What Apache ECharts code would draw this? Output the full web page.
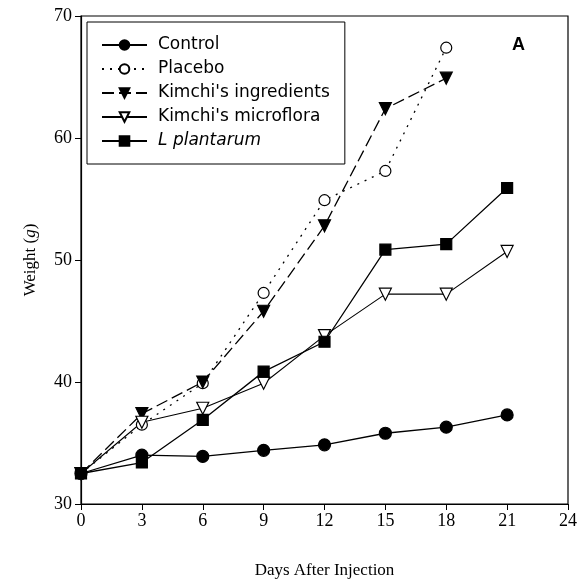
<!DOCTYPE html>
<html><head><meta charset="utf-8">
<script src="https://cdn.jsdelivr.net/npm/echarts@6/dist/echarts.min.js"></script>
<style>html,body{margin:0;padding:0;background:#fff}#c{width:580px;height:585px}</style>
</head><body><div id="c"></div>
<script>
const days = [0, 3, 6, 9, 12, 15, 18, 21];
const xTicks = [0, 3, 6, 9, 12, 15, 18, 21, 24];
const yTicks = [30, 40, 50, 60, 70];
const control = [32.5, 34.0, 33.9, 34.4, 34.85, 35.8, 36.3, 37.3];
const placebo = [32.5, 36.5, 39.9, 47.3, 54.9, 57.3, 67.4];
const ingredients = [32.5, 37.4, 40.0, 45.8, 52.8, 62.4, 64.9];
const microflora = [32.5, 36.7, 37.85, 39.9, 43.8, 47.2, 47.2, 50.7];
const plantarum = [32.5, 33.4, 36.9, 40.85, 43.3, 50.85, 51.3, 55.9];
const names = ['Control', 'Placebo', "Kimchi's ingredients", "Kimchi's microflora", 'L plantarum'];

const pairs = arr => arr.map((v, i) => [days[i], v]);
const base = {type: 'line', color: '#000', showSymbol: true, z: 3,
  itemStyle: {color: '#000', borderColor: '#000', borderWidth: 1.2}};
const chart = echarts.init(document.getElementById('c'));
chart.setOption({
  animation: false,
  backgroundColor: '#fff',
  grid: {left: 81, right: 10, top: 16, bottom: 81, show: true, borderColor: '#000', borderWidth: 1.2},
  xAxis: {type: 'value', min: xTicks[0], max: xTicks[xTicks.length - 1], interval: 3,
    name: 'Days After Injection', nameLocation: 'middle', nameGap: 58,
    nameTextStyle: {fontFamily: 'Liberation Serif', fontSize: 17, color: '#000'},
    axisLine: {lineStyle: {color: '#000', width: 1.2}},
    axisTick: {show: true, inside: false, length: 6, lineStyle: {color: '#000'}},
    axisLabel: {fontFamily: 'Liberation Serif', fontSize: 18, color: '#000', margin: 8},
    splitLine: {show: false}},
  yAxis: {type: 'value', min: yTicks[0], max: yTicks[yTicks.length - 1], interval: 10,
    name: 'Weight ({i|g})', nameLocation: 'middle', nameGap: 42,
    nameTextStyle: {fontFamily: 'Liberation Serif', fontSize: 17, color: '#000',
      rich: {i: {fontFamily: 'Liberation Serif', fontSize: 17, fontStyle: 'italic', color: '#000'}}},
    axisLine: {lineStyle: {color: '#000', width: 1.2}},
    axisTick: {show: true, inside: false, length: 6, lineStyle: {color: '#000'}},
    axisLabel: {fontFamily: 'Liberation Serif', fontSize: 18, color: '#000', margin: 9},
    splitLine: {show: false}},
  legend: {orient: 'vertical', left: 87, top: 22, itemWidth: 45, itemHeight: 12, itemGap: 7,
    padding: [14.5, 15, 14.5, 14], borderColor: '#000', borderWidth: 1, backgroundColor: '#fff',
    textStyle: {fontFamily: 'DejaVu Sans', fontSize: 17, lineHeight: 17, color: '#000', padding: [0, 0, 0, 6],
      rich: {i: {fontFamily: 'DejaVu Sans', fontSize: 17, lineHeight: 17, fontStyle: 'italic', color: '#000'}}},
    formatter: n => n === 'L plantarum' ? '{i|L plantarum}' : n,
    data: names},
  graphic: [{type: 'text', left: 512, top: 36,
    style: {text: 'A', fontFamily: 'Liberation Sans', fontSize: 18, fontWeight: 'bold', fill: '#000'}}],
  series: [
    Object.assign({}, base, {name: names[0], data: pairs(control), symbol: 'circle', symbolSize: 12,
      lineStyle: {color: '#000', width: 1.3, type: 'solid'}}),
    Object.assign({}, base, {name: names[1], data: pairs(placebo), symbol: 'circle', symbolSize: 11,
      itemStyle: {color: '#fff', borderColor: '#000', borderWidth: 1.2},
      lineStyle: {color: '#000', width: 1.3, type: [2, 6]}}),
    Object.assign({}, base, {name: names[2], data: pairs(ingredients), symbol: 'triangle', symbolRotate: 180, symbolSize: 12,
      lineStyle: {color: '#000', width: 1.3, type: [12, 5]}}),
    Object.assign({}, base, {name: names[3], data: pairs(microflora), symbol: 'triangle', symbolRotate: 180, symbolSize: 12,
      itemStyle: {color: '#fff', borderColor: '#000', borderWidth: 1.2},
      lineStyle: {color: '#000', width: 1.1, type: 'solid'}}),
    Object.assign({}, base, {name: names[4], data: pairs(plantarum), symbol: 'rect', symbolSize: 11,
      lineStyle: {color: '#000', width: 1.3, type: 'solid'}})
  ]
});
</script></body></html>
